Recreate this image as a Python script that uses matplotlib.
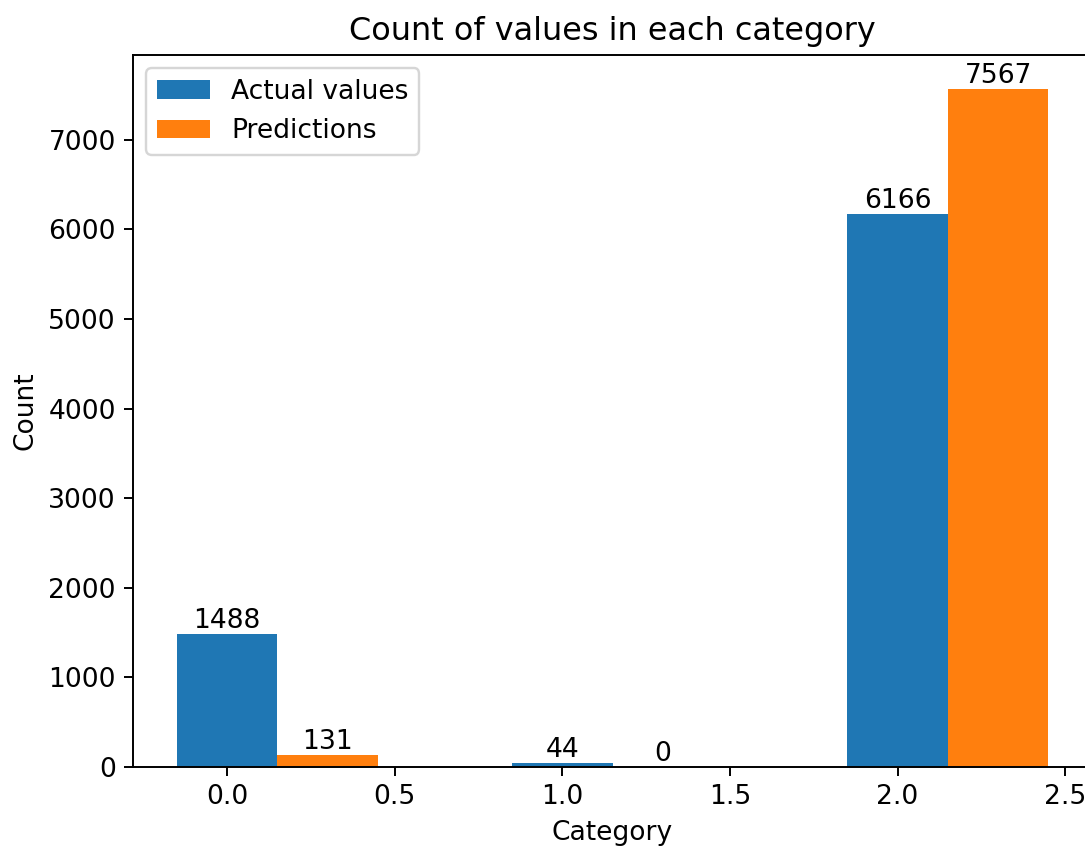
import matplotlib
matplotlib.use("Agg")
import matplotlib.pyplot as plt
import numpy as np

# counts per category
categories = [0, 1, 2]
actual_counts = [1488, 44, 6166]
predicted_counts = [131, 0, 7567]

bar_width = 0.3
x = np.array(categories, dtype=float)

plt.rcParams['font.size'] = 10.9

fig = plt.figure(figsize=(1085 / 175, 851 / 175), dpi=175)
ax = fig.add_axes([133 / 1085, 84 / 851, (1092 - 133) / 1085, (796 - 84) / 851])

bars_actual = ax.bar(x, actual_counts, bar_width, label='Actual values')
bars_pred = ax.bar(x + bar_width, predicted_counts, bar_width, label='Predictions')

ax.bar_label(bars_actual)
ax.bar_label(bars_pred)

ax.set_title('Count of values in each category', fontsize=13.1)
ax.set_xlabel('Category')
ax.set_ylabel('Count')
ax.legend(loc='upper left')

fig.savefig('out.png', dpi=175)
